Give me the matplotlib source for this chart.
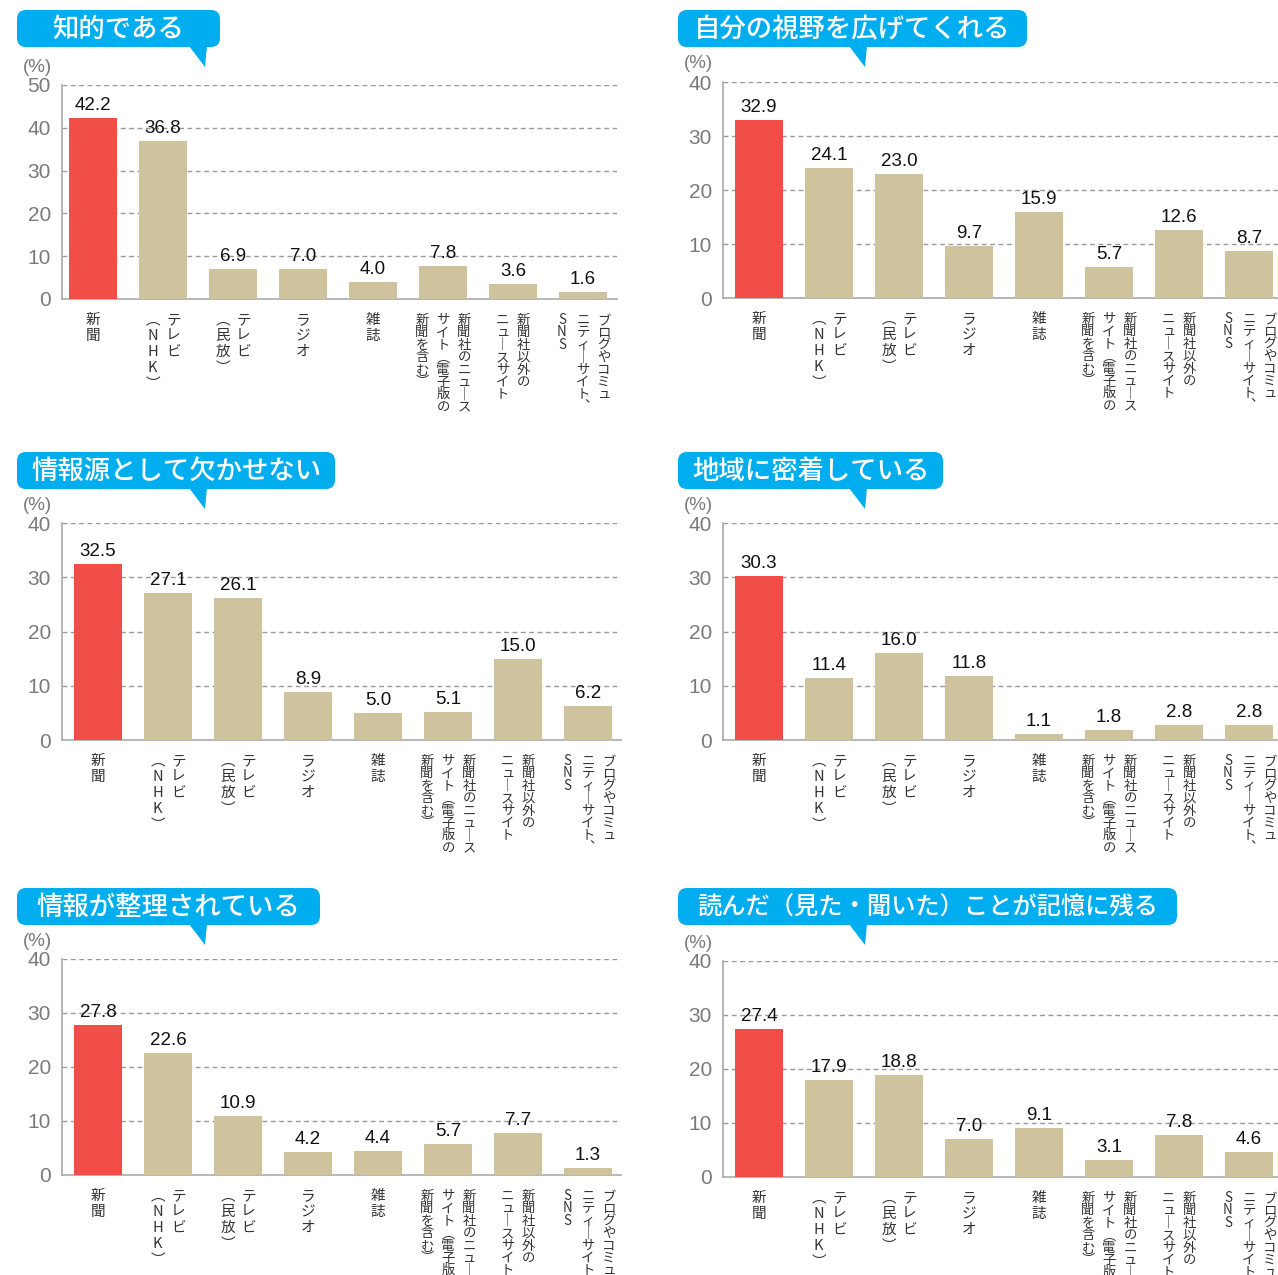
import matplotlib
matplotlib.use("Agg")
import matplotlib.pyplot as plt
from matplotlib.patches import FancyBboxPatch, Polygon

plt.rcParams['font.family'] = ['Noto Sans CJK JP', 'DejaVu Sans']

# ---- data ----
titles = [
    '知的である',
    '自分の視野を広げてくれる',
    '情報源として欠かせない',
    '地域に密着している',
    '情報が整理されている',
    '読んだ（見た・聞いた）ことが記憶に残る',
]

# each category label as its vertical columns, right to left
categories = [
    ['新聞'],
    ['テレビ', '(NHK)'],
    ['テレビ', '(民放)'],
    ['ラジオ'],
    ['雑誌'],
    ['新聞社のニュース', 'サイト(電子版の', '新聞を含む)'],
    ['新聞社以外の', 'ニュースサイト'],
    ['ブログやコミュ', 'ニティーサイト、', 'SNS'],
]

vals_chiteki = [42.2, 36.8, 6.9, 7.0, 4.0, 7.8, 3.6, 1.6]
vals_shiya = [32.9, 24.1, 23.0, 9.7, 15.9, 5.7, 12.6, 8.7]
vals_jouhougen = [32.5, 27.1, 26.1, 8.9, 5.0, 5.1, 15.0, 6.2]
vals_chiiki = [30.3, 11.4, 16.0, 11.8, 1.1, 1.8, 2.8, 2.8]
vals_seiri = [27.8, 22.6, 10.9, 4.2, 4.4, 5.7, 7.7, 1.3]
vals_kioku = [27.4, 17.9, 18.8, 7.0, 9.1, 3.1, 7.8, 4.6]
all_vals = [vals_chiteki, vals_shiya, vals_jouhougen, vals_chiiki, vals_seiri, vals_kioku]
ymaxes = [50, 40, 40, 40, 40, 40]

# ---- layout (pixels) ----
W, H = 1278, 1275
# left edge, first bar center, right edge, top(ymax) y, zero y
panels = [
    (62, 93, 617, 85, 299),
    (723, 759, 1283, 82, 298),
    (62, 98, 621, 523, 740),
    (723, 759, 1283, 523, 740),
    (62, 98, 621, 959, 1175),
    (723, 759, 1283, 961, 1177),
]
# bubble x0, x1, pointer x, top y
bubbles = [
    (17, 220, 205, 10),
    (678, 1027, 865, 10),
    (17, 335, 205, 452),
    (678, 943, 865, 452),
    (17, 320, 205, 888),
    (678, 1177, 865, 888),
]
step = 70.0
RED = '#F04E46'
TAN = '#CFC39D'
BLUE = '#00AEEF'
NUMFONT = ['Liberation Sans', 'DejaVu Sans']

vert_map = {'(': '︵', ')': '︶', 'ー': '｜', '、': '︑'}

fig = plt.figure(figsize=(W / 100, H / 100), dpi=100)

for p in range(6):
    left, c0, right, ytop, yzero = panels[p]
    x_lo = (left - c0) / step
    x_hi = (right - c0) / step
    ax = fig.add_axes([left / W, 1 - yzero / H, (right - left) / W, (yzero - ytop) / H])
    vals = all_vals[p]
    colors = [RED] + [TAN] * (len(vals) - 1)
    xs = list(range(len(vals)))
    ax.bar(xs, vals, width=0.68, color=colors, zorder=3)
    ax.set_xlim(x_lo, x_hi)
    ymax = ymaxes[p]
    ax.set_ylim(0, ymax)
    ax.set_yticks(range(0, ymax + 1, 10))
    ax.tick_params(axis='y', length=0, pad=8, labelsize=15, labelcolor='#7a7a7a')
    for lab in ax.get_yticklabels():
        lab.set_fontfamily(NUMFONT)
    ax.set_xticks([])
    for t in range(10, ymax + 1, 10):
        ax.axhline(t, color='#999999', lw=1, ls=(0, (3.5, 2.5)), zorder=1)
    for s in ['top', 'right']:
        ax.spines[s].set_visible(False)
    ax.spines['left'].set_color('#aaaaaa')
    ax.spines['bottom'].set_color('#aaaaaa')
    ax.spines['left'].set_linewidth(1.2)
    ax.spines['bottom'].set_linewidth(1.2)

    for x, v in zip(xs, vals):
        ax.annotate(f'{v:.1f}', (x, v), xytext=(0, 4), textcoords='offset pixels',
                    ha='center', va='bottom', fontsize=13.5, color='#111111',
                    family=NUMFONT)

    ax.annotate('(%)', (0, 1), xycoords='axes fraction', xytext=(-25, 18),
                textcoords='offset pixels', ha='center', va='center',
                fontsize=13.5, color='#7a7a7a', family=NUMFONT,
                annotation_clip=False)

    xt = ax.get_xaxis_transform()
    for x, cols in zip(xs, categories):
        ncol = len(cols)
        long_label = max(len(c) for c in cols) > 5
        pitch = 12.4 if long_label else 16
        fsz = 9.6 if long_label else 10.5
        for j, col in enumerate(cols):
            dx = ((ncol - 1) / 2 - j) * 21
            for i, ch in enumerate(col):
                ch = vert_map.get(ch, ch)
                ax.annotate(ch, (x, 0), xycoords=xt, xytext=(dx, -21 - i * pitch),
                            textcoords='offset pixels', ha='center', va='center',
                            fontsize=fsz, color='#333333', annotation_clip=False)

# title bubbles on an overlay in pixel coordinates
ov = fig.add_axes([0, 0, 1, 1], zorder=10)
ov.set_xlim(0, W)
ov.set_ylim(H, 0)
ov.axis('off')
ov.patch.set_alpha(0)
for (x0, x1, px, y0), title in zip(bubbles, titles):
    bh = 37
    ov.add_patch(FancyBboxPatch((x0, y0), x1 - x0, bh,
                                boxstyle='round,pad=0,rounding_size=9',
                                fc=BLUE, ec='none'))
    ov.add_patch(Polygon([(px - 16, y0 + bh - 1), (px + 2, y0 + bh - 1), (px, y0 + bh + 20)],
                         closed=True, fc=BLUE, ec='none'))
    fs = 19 if len(title) < 15 else 17.5
    ov.text((x0 + x1) / 2, y0 + bh / 2 + 1, title, ha='center', va='center',
            fontsize=fs, color='white', fontweight='medium')

fig.savefig('out.png', dpi=100)
